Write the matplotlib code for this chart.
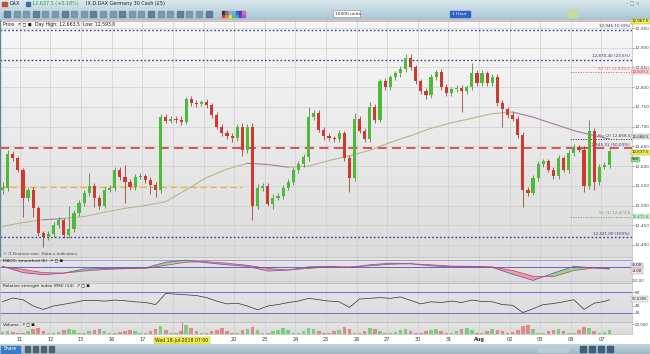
import numpy as np
import matplotlib
matplotlib.use("Agg")
import matplotlib.pyplot as plt
from matplotlib.patches import Rectangle

W, H = 650, 354

# DAX (Germany 30 Cash), 4-hour bars, 10 Jul -> 7 Aug 2018
first_open = 12540
closes = [12545, 12630, 12620, 12590, 12520, 12540, 12494, 12430, 12420, 12428,
          12450, 12463, 12425, 12440, 12480, 12506, 12532, 12550, 12520, 12500,
          12540, 12545, 12590, 12572, 12560, 12547, 12572, 12575, 12565, 12552,
          12540, 12724, 12715, 12720, 12718, 12712, 12770, 12760, 12758, 12762,
          12755, 12730, 12700, 12685, 12675, 12672, 12700, 12640, 12700, 12500,
          12545, 12550, 12505, 12520, 12525, 12545, 12560, 12590, 12605, 12622,
          12724, 12735, 12692, 12675, 12670, 12668, 12684, 12620, 12570, 12720,
          12690, 12668, 12750, 12717, 12815, 12800, 12825, 12835, 12845, 12875,
          12850, 12815, 12790, 12780, 12826, 12838, 12800, 12785, 12795, 12798,
          12790, 12800, 12836, 12810, 12835, 12810, 12826, 12760, 12745, 12730,
          12720, 12680, 12540, 12532, 12570, 12605, 12612, 12590, 12575, 12620,
          12590, 12633, 12648, 12642, 12550, 12690, 12560, 12598, 12603, 12637.5]
wick_up = [15, 10, 8, 6, 5, 8, 6, 5, 6, 7,
           8, 7, 6, 60, 8, 7, 8, 32, 6, 7,
           8, 6, 8, 7, 31, 6, 8, 7, 6, 7,
           8, 9, 8, 7, 6, 8, 5, 8, 7, 6,
           7, 6, 8, 7, 6, 8, 6, 8, 7, 8,
           9, 7, 6, 8, 7, 8, 6, 8, 7, 8,
           26, 8, 7, 6, 8, 7, 8, 6, 7, 15,
           8, 7, 12, 8, 7, 8, 6, 7, 8, 9,
           8, 7, 6, 8, 7, 6, 8, 7, 6, 8,
           7, 6, 25, 7, 8, 6, 7, 8, 7, 6,
           8, 7, 6, 8, 7, 8, 6, 7, 8, 7,
           6, 8, 7, 6, 8, 27, 7, 6, 8, 7]
wick_dn = [10, 8, 7, 6, 49, 8, 24, 7, 25, 8,
           7, 6, 7, 8, 7, 6, 8, 7, 24, 8,
           7, 6, 8, 7, 54, 8, 7, 6, 8, 22,
           18, 8, 7, 6, 8, 7, 6, 8, 7, 6,
           8, 7, 6, 8, 7, 12, 8, 15, 7, 37,
           8, 7, 6, 15, 7, 8, 6, 7, 8, 7,
           8, 7, 6, 8, 7, 6, 8, 7, 35, 8,
           7, 6, 8, 7, 6, 8, 7, 6, 8, 7,
           6, 8, 7, 10, 8, 7, 6, 8, 7, 6,
           53, 8, 7, 6, 8, 7, 6, 8, 45, 7,
           6, 8, 44, 7, 6, 8, 7, 6, 8, 7,
           6, 8, 7, 6, 15, 8, 20, 7, 6, 8]

ma_bars = [0, 4, 8, 12, 16, 20, 24, 28, 32, 36, 40, 44, 48, 52, 56, 60,
           64, 68, 72, 76, 80, 84, 88, 92, 96, 100, 104, 108, 112, 116, 119]
ma_vals = [12447, 12457, 12464, 12467, 12472, 12483, 12493, 12500, 12510, 12540,
           12571, 12592, 12607, 12604, 12597, 12600, 12614, 12626, 12640, 12660,
           12677, 12696, 12710, 12721, 12733, 12737, 12724, 12707, 12690, 12677, 12669]
macd_vals = [4, -20, -28, -22, -6, -4, -4, -2, 20, 28, 18, 10, 4, -14, -10, 2,
             4, 0, 10, 16, 14, 6, 2, 4, 0, -26, -50, -22, 4, -2, -6]
signal_vals = [2, -8, -20, -22, -14, -8, -5, -4, 8, 20, 22, 16, 8, -4, -10, -4,
               2, 2, 6, 12, 14, 10, 5, 4, 2, -12, -34, -36, -12, -2, -4]

rsi_bars = [0, 2, 4, 6, 8, 10, 12, 14, 16, 18, 20, 22, 24, 26, 28, 30, 32, 34, 36, 38,
            40, 42, 44, 46, 48, 50, 52, 54, 56, 58, 60, 62, 64, 66, 68, 70, 72, 74, 76, 78,
            80, 82, 84, 86, 88, 90, 92, 94, 96, 98, 100, 102, 104, 106, 108, 110, 112, 114,
            116, 118, 119]
rsi_vals = [52, 63, 58, 40, 30, 40, 45, 50, 56, 56, 54, 57, 55, 52, 50, 44, 76, 74, 72, 70,
            64, 54, 46, 48, 40, 29, 40, 44, 50, 54, 62, 58, 54, 52, 36, 60, 62, 64, 62, 66,
            56, 46, 52, 50, 54, 50, 57, 53, 52, 44, 42, 21, 32, 44, 47, 52, 58, 30, 48, 53, 58]
rsi_last_text = "60.8306"

volumes = [4, 7, 5, 3,
           2, 6, 10, 13, 7, 3,
           2, 5, 9, 11, 8, 2,
           3, 6, 8, 10, 6, 2,
           2, 5, 7, 9, 6, 3,
           3, 6, 11, 16, 8, 3,
           2, 7, 18, 12, 6, 2,
           3, 6, 9, 13, 7, 2,
           3, 8, 11, 15, 9, 3,
           2, 6, 9, 12, 8, 2,
           3, 7, 12, 10, 6, 2,
           2, 6, 8, 14, 11, 3,
           3, 7, 13, 11, 6, 2,
           2, 5, 8, 10, 7, 3,
           3, 6, 9, 11, 6, 2,
           2, 7, 10, 12, 8, 3,
           3, 6, 11, 9, 7, 2,
           4, 9, 16, 18, 10, 3,
           2, 6, 9, 11, 7, 2,
           3, 8, 14, 12, 6, 2,
           4, 9]

day_labels = ["11", "12", "13", "16", "17", "18", "19", "20", "23", "24",
              "25", "26", "27", "30", "31", "Aug", "02", "03", "06", "07"]

fib_levels = [12946, 12870, 12645, 12421]
fib_texts = ["12,946.10 (0%)", "12,870.40 (23.6%)", "12,645.31 (50.00%)", "12,421.00 (100%)"]
pivot_levels = [12839, 12668, 12472]
pivot_texts = ["R1 (1) 12,839.2", "Piv (2) 12,668.5", "S1 (1) 12,472.6"]
pivot_colors = ["#e07070", "#444444", "#6aa86a"]
old_support = 12548
day_high = 12967.5


def box(x0, y0, x1, y1):
    return [x0 / W, 1 - y1 / H, (x1 - x0) / W, (y1 - y0) / H]


def gradient(ax, top, bottom):
    g = np.linspace(0, 1, 64).reshape(-1, 1)
    c0 = np.array(matplotlib.colors.to_rgb(top))
    c1 = np.array(matplotlib.colors.to_rgb(bottom))
    img = c0[None, None, :] * (1 - g[:, :, None]) + c1[None, None, :] * g[:, :, None]
    ax.imshow(img, extent=[0, 1, 0, 1], transform=ax.transAxes, aspect="auto", zorder=0)


def tag(ax, y, text, fc, ec="#999", color="#222", size=2.9):
    ax.text(1.0, y, text, transform=ax.get_yaxis_transform(), fontsize=size, va="center",
            ha="left", color=color, clip_on=False,
            bbox=dict(boxstyle="square,pad=0.15", fc=fc, ec=ec, lw=0.3))


closes = np.array(closes, dtype=float)
opens = np.concatenate([[first_open], closes[:-1]])
highs = np.maximum(opens, closes) + np.array(wick_up)
lows = np.minimum(opens, closes) - np.array(wick_dn)
idx = np.arange(len(closes))
up = closes >= opens
body_col = np.where(up, "#4dbb3a", "#cc3a30")
wick_col = np.where(up, "#2f7d24", "#8a2a20")
day_pos = [3.4 + 6 * k for k in range(len(day_labels))]
xlim = (-0.5, 123.4)
small = 3.5

fig = plt.figure(figsize=(6.5, 3.54), dpi=100)
fig.patch.set_facecolor("white")

# ---- top toolbar
tb = fig.add_axes(box(0, 0, 650, 20))
gradient(tb, "#dbe9ef", "#a8c5d2")
tb.set_xlim(0, W)
tb.set_ylim(20, 0)
tb.axis("off")
tb.add_patch(Rectangle((2, 1.5), 5, 4, color="#d04a3a"))
tb.text(10, 3.8, "DAX", fontsize=small, va="center", color="#223")
tb.add_patch(Rectangle((26, 1.5), 4, 4, color="#3a6ea8"))
tb.text(32, 3.8, "12,637.5 (+0.18%)", fontsize=small, va="center", color="#2e9a2e")
tb.text(86, 3.8, "IX.D.DAX Germany 30 Cash (£5)", fontsize=small, va="center", color="#223")
for k in range(22):
    tb.add_patch(Rectangle((4 + k * 9.6, 10.5), 6, 6, color="#6f8ea8" if k % 3 else "#4f6f8a",
                           alpha=0.8))
for k, c in enumerate(["#e04040", "#f08030", "#f0e040", "#50c050", "#40a0e0", "#4050d0", "#b050c0"]):
    tb.add_patch(Rectangle((222 + k * 3.4, 14.5), 3, 2.5, color=c))
    tb.add_patch(Rectangle((222 + k * 3.4, 10.5), 3, 3,
                           color=["#333", "#777", "#aaa", "#6af", "#46c", "#639", "#c6c"][k]))
tb.add_patch(Rectangle((333, 10), 27, 7, facecolor="white", edgecolor="#888", lw=0.4))
tb.text(335, 13.6, "10000 units", fontsize=3.2, va="center", color="#222")
tb.add_patch(Rectangle((450, 10.5), 20, 6, color="#2f63c7"))
tb.text(452, 13.6, "1 Hour", fontsize=3.2, va="center", color="white")
tb.add_patch(Rectangle((567, 10), 10, 7, color="#c8d8a0"))
tb.text(626, 4, "– □ ×", fontsize=3.4, va="center", color="#889")

# ---- price panel
ax = fig.add_axes(box(0, 20, 632, 257))
gradient(ax, "#f7f7f7", "#dcdcdc")
ax.set_xlim(*xlim)
ax.set_ylim(12369.5, 12970.3)
price_ticks = np.arange(12400, 12951, 50)
ax.set_yticks(price_ticks)
ax.set_yticklabels([f"{v:,.0f}" for v in price_ticks])
ax.yaxis.tick_right()
ax.tick_params(axis="y", labelsize=3.1, length=1.2, width=0.4, colors="#444", pad=0.6)
ax.set_xticks(day_pos)
ax.tick_params(axis="x", length=0, labelbottom=False)
ax.grid(True, color="#cfcfcf", lw=0.5, zorder=1)
for s in ax.spines.values():
    s.set_color("#b8b8b8")
    s.set_linewidth(0.5)
ax.spines["left"].set_color("#5a8a94")
ax.spines["left"].set_linewidth(1.0)

ax.axhline(day_high, color="#eaa3a3", lw=0.6, zorder=2)
for lvl, txt in zip(fib_levels, fib_texts):
    if "50.00" in txt:
        ax.axhline(lvl, color="#d42a2a", lw=1.1, ls=(0, (6, 3.5)), zorder=2)
    else:
        ax.axhline(lvl, color="#3b3b9a", lw=1.0, ls=(0, (1.2, 1.6)), zorder=2)
    ax.text(0.997, lvl + 3, txt, transform=ax.get_yaxis_transform(), ha="right", va="bottom",
            fontsize=3.0, color="#333366")
for lvl, txt, c in zip(pivot_levels, pivot_texts, pivot_colors):
    ax.axhline(lvl, xmin=0.902, color=c, lw=0.7, ls=(0, (1.2, 1.4)), zorder=2)
    ax.text(0.997, lvl + 3, txt, transform=ax.get_yaxis_transform(), ha="right", va="bottom",
            fontsize=3.0, color=c)
ax.hlines(old_support, xlim[0], 47, color="#f0b030", lw=0.9, ls=(0, (5, 3)), zorder=2)

# moving average, tan above price / purple below
for j in range(len(ma_bars) - 1):
    a, b = ma_bars[j], ma_bars[j + 1]
    below = closes[a:b + 1].mean() < (ma_vals[j] + ma_vals[j + 1]) / 2
    ax.plot([a, b], [ma_vals[j], ma_vals[j + 1]], color="#a77aa6" if below else "#b9b58f",
            lw=0.8, zorder=3, solid_capstyle="round")

ax.vlines(idx, lows, highs, colors=wick_col, lw=0.5, zorder=4)
ax.bar(idx, np.maximum(np.abs(closes - opens), 2), bottom=np.minimum(opens, closes),
       width=0.62, color=body_col, lw=0, zorder=5)

ax.text(0.004, 0.993, "Price  ↗ ◻ ◼", transform=ax.transAxes, fontsize=3.3, va="top", color="#222")
ax.text(0.056, 0.993, "Day High: 12,663.5  Low: 12,593.0", transform=ax.transAxes,
        fontsize=3.3, va="top", color="#222")
ax.text(0.004, 0.005, "© IT-Finance.com  Data-x-indicators", transform=ax.transAxes,
        fontsize=3.0, va="bottom", color="#444")

tag(ax, day_high, "12,967.5", "#f2f23a")
tag(ax, pivot_levels[0], "12,839.2", "#f7d8d8", ec="#d99", color="#c03030")
tag(ax, pivot_levels[1] + 6, "12,668.5", "#e4e4e4")
tag(ax, closes[-1] - 3, f"{closes[-1]:,.1f}", "#f2f23a")
tag(ax, closes[-1] - 20, "Sell", "#8fd68f", ec="#5a5")
tag(ax, pivot_levels[2], "12,472.6", "#d8eed8", ec="#9c9", color="#3a7a3a")

cross_x = day_pos[5] + 7 / 4

# ---- MACD panel
am = fig.add_axes(box(0, 257, 632, 283), sharex=ax)
gradient(am, "#e6e6e6", "#dadada")
am.set_ylim(-60, 40)
am.axhline(28, color="#9a8fd0", lw=0.6)
am.axhline(0, color="#5050c8", lw=0.6)
am.axhline(-54, color="#c8c8d8", lw=0.5)
am.fill_between(ma_bars, macd_vals, signal_vals,
                where=np.array(macd_vals) >= np.array(signal_vals),
                interpolate=True, color="#7fd07f", alpha=0.8, lw=0)
am.fill_between(ma_bars, macd_vals, signal_vals,
                where=np.array(macd_vals) < np.array(signal_vals),
                interpolate=True, color="#f08a9a", alpha=0.8, lw=0)
am.plot(ma_bars, macd_vals, color="#7a5ab0", lw=0.6)
am.plot(ma_bars, signal_vals, color="#c04060", lw=0.5)
am.set_yticks([])
am.tick_params(axis="x", length=0, labelbottom=False)
am.grid(True, axis="x", color="#cfcfcf", lw=0.5)
am.text(0.004, 0.93, "MACD, smoothed (6)  ↗ ◻ ◼", transform=am.transAxes, fontsize=3.1,
        va="top", color="#222")
tag(am, 8, f"{macd_vals[-1]:.2f}", "#dcdcf4", ec="#99a")
tag(am, -14, f"{signal_vals[-1]:.2f}", "#f4dcdc", ec="#a99")
am.text(1.0, -52, "-50.00", transform=am.get_yaxis_transform(), fontsize=2.9, va="center",
        color="#444", clip_on=False)

# ---- RSI panel
ar = fig.add_axes(box(0, 283, 632, 322), sharex=ax)
gradient(ar, "#e6e6e6", "#dadada")
ar.set_ylim(-6, 106)
ar.axhline(80, color="#7a6ad0", lw=0.7)
ar.axhline(20, color="#7a6ad0", lw=0.7)
ar.plot(rsi_bars, rsi_vals, color="#333333", lw=0.5)
ar.set_yticks([20, 40, 80])
ar.yaxis.tick_right()
ar.tick_params(axis="y", labelsize=3.1, length=1.2, width=0.4, colors="#444", pad=0.6)
ar.tick_params(axis="x", length=0, labelbottom=False)
ar.grid(True, axis="x", color="#cfcfcf", lw=0.5)
ar.text(0.004, 0.97, "Relative strength index (RSI) (14)  ↗ ◻ ◼", transform=ar.transAxes,
        fontsize=3.1, va="top", color="#222")
tag(ar, 60, rsi_last_text, "#eeeeee", size=2.7)

# ---- volume panel
av = fig.add_axes(box(0, 322, 632, 334), sharex=ax)
gradient(av, "#e6e6e6", "#dadada")
av.set_ylim(0, 24)
av.bar(idx, volumes, width=0.7, color=np.where(up, "#6fcf6f", "#e08080"), lw=0, alpha=0.9)
av.axvline(cross_x, color="#e05050", lw=0.5)
av.set_yticks([20])
av.set_yticklabels(["20,000"])
av.yaxis.tick_right()
av.tick_params(axis="y", labelsize=2.9, length=1.2, width=0.4, colors="#444", pad=0.6)
av.grid(True, axis="x", color="#cfcfcf", lw=0.5)
av.text(0.004, 0.97, "Volume  ↗ ◻ ◼", transform=av.transAxes, fontsize=3.1, va="top", color="#222")
av.set_xticks(day_pos)
av.set_xticklabels([("" if lab in ("18", "19") else lab) for lab in day_labels])
av.tick_params(axis="x", labelsize=3.6, length=0, pad=2.5, colors="#333")
for t in av.get_xticklabels():
    if t.get_text() == "Aug":
        t.set_fontweight("bold")
av.text(cross_x, -0.55, "Wed 18-Jul-2018 07:00", transform=av.get_xaxis_transform(),
        ha="center", va="center", fontsize=3.3, color="#222",
        bbox=dict(boxstyle="square,pad=0.25", fc="#f2f23a", ec="#aaa", lw=0.3))
for a in (am, ar, av):
    for s in a.spines.values():
        s.set_color("#b8b8b8")
        s.set_linewidth(0.5)

# ---- bottom toolbar
bb = fig.add_axes(box(0, 344, 650, 354))
gradient(bb, "#c3d6df", "#9db7c5")
bb.set_xlim(0, W)
bb.set_ylim(10, 0)
bb.axis("off")
bb.add_patch(Rectangle((1, 1.5), 19, 7, color="#3b7cc4"))
bb.text(10.5, 5, "Share", fontsize=3.3, ha="center", va="center", color="white")
for k in range(4):
    bb.add_patch(Rectangle((25 + k * 8, 2), 5, 6, color="#50606c"))
bb.add_patch(Rectangle((538, 2), 30, 6, color="#b8cbd6"))
for k in range(4):
    bb.add_patch(Rectangle((580 + k * 9, 2), 6, 6, color="#40607a"))

fig.savefig("out.png", dpi=100)
